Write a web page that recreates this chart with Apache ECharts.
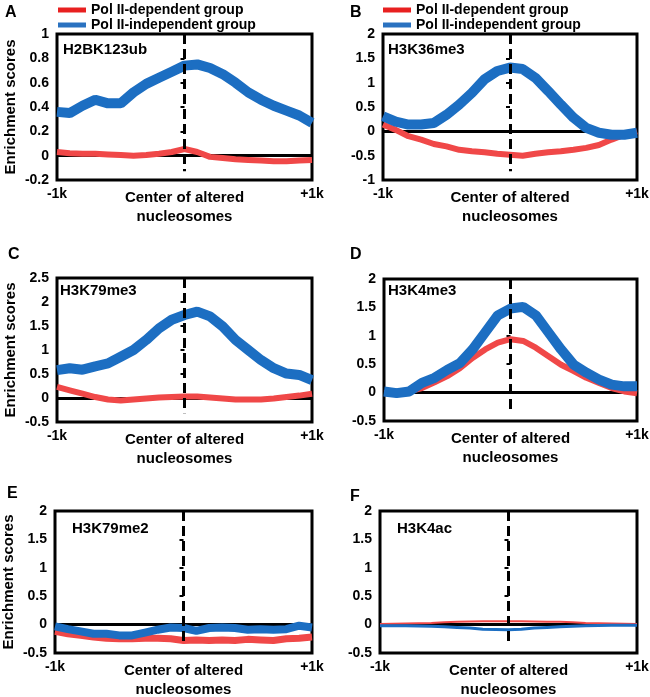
<!DOCTYPE html>
<html><head><meta charset="utf-8">
<script src="https://cdn.jsdelivr.net/npm/echarts@6/dist/echarts.min.js"></script>
<style>html,body{margin:0;padding:0;background:#fff}#c{width:650px;height:697px}</style>
</head><body><div id="c"></div>
<script>
// x positions relative to the center of altered nucleosomes (bp)
const positions = [-1000,-900,-800,-700,-600,-500,-400,-300,-200,-100,0,100,200,300,400,500,600,700,800,900,1000];
const seriesNames = ['Pol II-dependent group','Pol II-independent group'];
const panelLetters = ['A','B','C','D','E','F'];
const markNames = ['H2BK123ub','H3K36me3','H3K79me3','H3K4me3','H3K79me2','H3K4ac'];
const yMin = [-0.2,-1,-0.5,-0.5,-0.5,-0.5];
const yMax = [1,2,2.5,2,2,2];
const yStep = [0.2,0.5,0.5,0.5,0.5,0.5];

// Panel A: H2BK123ub
const depA = [0.03,0.02,0.015,0.015,0.01,0.005,0,0.005,0.015,0.03,0.055,0.03,-0.01,-0.02,-0.03,-0.035,-0.04,-0.045,-0.045,-0.04,-0.035];
const indA = [0.36,0.35,0.41,0.46,0.43,0.43,0.52,0.59,0.64,0.69,0.74,0.75,0.72,0.67,0.60,0.52,0.46,0.41,0.37,0.33,0.27];
// Panel B: H3K36me3
const depB = [0.14,0.03,-0.1,-0.17,-0.26,-0.31,-0.38,-0.41,-0.43,-0.46,-0.48,-0.5,-0.46,-0.43,-0.41,-0.38,-0.34,-0.28,-0.17,-0.07,0];
const indB = [0.31,0.2,0.14,0.14,0.17,0.34,0.55,0.79,1.07,1.24,1.31,1.28,1.1,0.83,0.55,0.28,0.07,-0.03,-0.07,-0.07,-0.03];
// Panel C: H3K79me3
const depC = [0.23,0.16,0.09,0.02,-0.03,-0.05,-0.03,-0.01,0.01,0.02,0.03,0.03,0.01,-0.01,-0.03,-0.03,-0.03,-0.01,0.02,0.05,0.09];
const indC = [0.58,0.62,0.59,0.66,0.72,0.86,1.0,1.21,1.45,1.63,1.73,1.8,1.7,1.49,1.21,1.0,0.79,0.62,0.51,0.48,0.37];
// Panel D: H3K4me3
const depD = [-0.01,0,0.02,0.08,0.18,0.29,0.43,0.61,0.76,0.88,0.94,0.91,0.79,0.64,0.49,0.38,0.26,0.17,0.08,0.02,-0.01];
const indD = [0.02,-0.01,0.02,0.17,0.26,0.4,0.52,0.76,1.06,1.36,1.48,1.51,1.36,1.06,0.76,0.49,0.35,0.23,0.14,0.11,0.11];
// Panel E: H3K79me2
const depE = [-0.12,-0.16,-0.19,-0.22,-0.24,-0.25,-0.25,-0.24,-0.24,-0.25,-0.28,-0.27,-0.28,-0.27,-0.28,-0.26,-0.27,-0.28,-0.25,-0.24,-0.22];
const indE = [-0.03,-0.08,-0.12,-0.16,-0.16,-0.19,-0.19,-0.14,-0.09,-0.05,-0.06,-0.11,-0.06,-0.05,-0.06,-0.09,-0.08,-0.09,-0.08,-0.02,-0.05];
// Panel F: H3K4ac
const depF = [0.01,0.015,0.02,0.025,0.03,0.04,0.05,0.055,0.06,0.06,0.06,0.06,0.055,0.05,0.05,0.04,0.03,0.025,0.02,0.015,0.01];
const indF = [-0.02,-0.02,-0.02,-0.025,-0.03,-0.04,-0.05,-0.06,-0.08,-0.085,-0.09,-0.08,-0.06,-0.05,-0.04,-0.03,-0.02,-0.015,-0.01,-0.01,-0.01];

const depData = [depA,depB,depC,depD,depE,depF];
const indData = [indA,indB,indC,indD,indE,indF];

// layout
const grids = [
  {left:57, top:34, width:255, height:146},
  {left:383, top:34, width:254, height:146},
  {left:57, top:278, width:255, height:144},
  {left:384, top:279, width:253, height:142},
  {left:55, top:511, width:257, height:142},
  {left:380, top:511, width:257, height:142}
];
const letterPos = [[5,5],[350,5],[8,247],[350,247],[7,486],[350,489]];
const markPos = [[63,42],[388,42],[60,283],[388,283],[72,521],[397,521]];
const depWidth = [6,6,6,6,7,2];
const indWidth = [10,10,10,10,8,3];

const FONT = '"Liberation Sans", Arial, sans-serif';
const RED = '#f04848', BLUE = '#1c6ec2';
const zip = arr => positions.map((x,i)=>[x,arr[i]]);

const option = {
  animation:false,
  backgroundColor:'#fff',
  textStyle:{fontFamily:FONT},
  title: [],
  legend: [0,1].map(k=>({
    orient:'vertical', left: k===0?58:383, top:3, itemGap:1, padding:0,
    itemWidth:28, itemHeight:5, icon:'rect', selectedMode:false,
    textStyle:{fontFamily:FONT, fontSize:14, fontWeight:'bold', color:'#000', lineHeight:14},
    data:[{name:seriesNames[0], itemStyle:{color:'#e82020'}},{name:seriesNames[1], itemStyle:{color:'#2a72c0'}}]
  })),
  grid: grids.map(g=>Object.assign({show:true, borderColor:'#000', borderWidth:3, backgroundColor:'transparent', containLabel:false, outerBoundsMode:'none'}, g)),
  xAxis: grids.map((g,i)=>({
    gridIndex:i, type:'value', min:-1000, max:1000, interval:1000,
    axisLine:{show:false}, axisTick:{show:false}, splitLine:{show:false},
    axisLabel:{showMinLabel:true, showMaxLabel:true, margin:7, color:'#000', fontFamily:FONT, fontSize:14, fontWeight:'bold',
      formatter:v=> v===-1000?'-1k':(v===1000?'+1k':'')},
    name:'Center of altered\nnucleosomes', nameLocation:'middle', nameGap:8, nameMoveOverlap:false,
    nameTextStyle:{color:'#000', fontFamily:FONT, fontSize:15, fontWeight:'bold', lineHeight:19}
  })),
  yAxis: grids.map((g,i)=>({
    gridIndex:i, type:'value', min:yMin[i], max:yMax[i], interval:yStep[i],
    axisLine:{show:false}, splitLine:{show:false},
    axisTick:{show:true, inside:false, length:4, lineStyle:{color:'#000', width:2}},
    axisLabel:{margin:8, color:'#000', fontFamily:FONT, fontSize:14, fontWeight:'bold'},
    name: (i%2===0)?'Enrichment scores':'', nameLocation:'middle', nameGap:39, nameRotate:90, nameMoveOverlap:false,
    nameTextStyle:{color:'#000', fontFamily:FONT, fontSize:15, fontWeight:'bold'}
  })),
  series: []
};

grids.forEach((g,i)=>{
  option.title.push({text:panelLetters[i], left:letterPos[i][0], top:letterPos[i][1], padding:0,
    textStyle:{fontFamily:FONT, fontSize:16, fontWeight:'bold', color:'#000'}});
  option.title.push({text:markNames[i], left:markPos[i][0], top:markPos[i][1], padding:0,
    textStyle:{fontFamily:FONT, fontSize:15, fontWeight:'bold', color:'#000'}});
  const dashEnd = yMin[i] + 0.06*(yMax[i]-yMin[i]);
  option.series.push({
    name:seriesNames[0], type:'line', xAxisIndex:i, yAxisIndex:i, data:zip(depData[i]),
    showSymbol:false, symbol:'none', color:RED, lineStyle:{color:RED, width:depWidth[i]}, silent:true, z:2,
    markLine:{silent:true, symbol:'none', z:1, label:{show:false},
      lineStyle:{color:'#000', width:3, type:'solid'}, data:[{yAxis:0}]}
  });
  option.series.push({
    name:seriesNames[1], type:'line', xAxisIndex:i, yAxisIndex:i, data:zip(indData[i]),
    showSymbol:false, symbol:'none', color:BLUE, lineStyle:{color:BLUE, width:indWidth[i]}, silent:true, z:3,
    markLine:{silent:true, symbol:'none', z:6, label:{show:false},
      lineStyle:{color:'#000', width:3, type:[10,5]},
      data:[[{coord:[0,yMax[i]]},{coord:[0,dashEnd]}]]}
  });
});

const chart = echarts.init(document.getElementById('c'), null, {renderer:'canvas'});
chart.setOption(option);
</script>
</body></html>
